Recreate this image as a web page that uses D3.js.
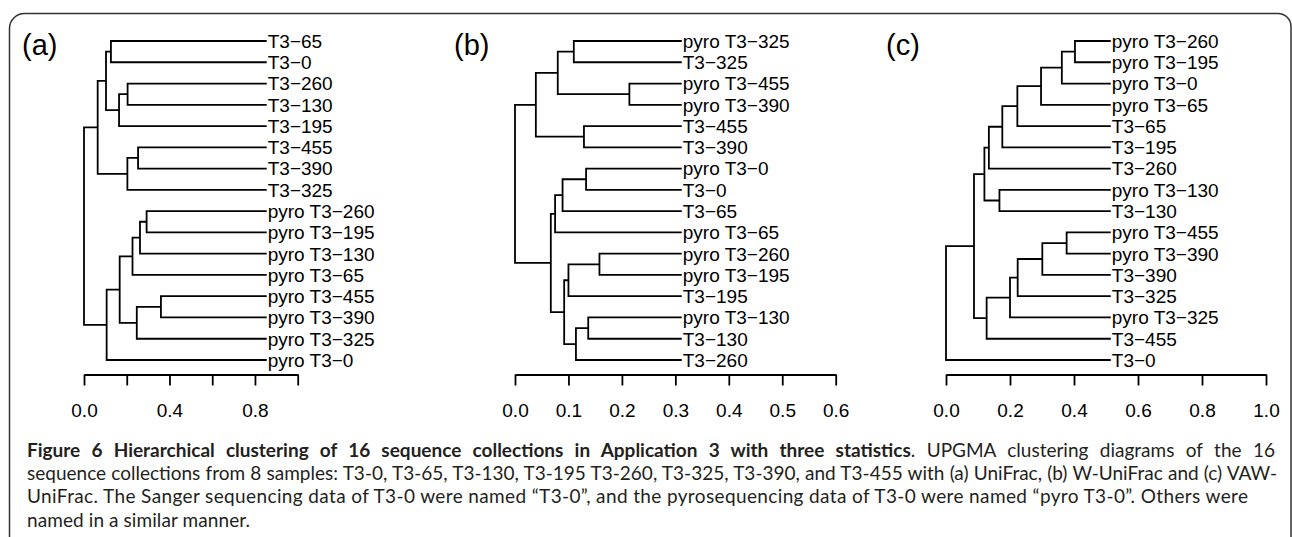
<!DOCTYPE html>
<html>
<head>
<meta charset="utf-8">
<script src="https://cdn.jsdelivr.net/npm/d3@7"></script>
<style>
  body { margin: 0; background: #fff; }
  svg { display: block; }
</style>
</head>
<body>
<script>
// Leaf order (top to bottom) for each dendrogram
var leavesA = ["T3-65", "T3-0", "T3-260", "T3-130", "T3-195", "T3-455", "T3-390", "T3-325",
  "pyro T3-260", "pyro T3-195", "pyro T3-130", "pyro T3-65", "pyro T3-455", "pyro T3-390", "pyro T3-325", "pyro T3-0"];
var leavesB = ["pyro T3-325", "T3-325", "pyro T3-455", "pyro T3-390", "T3-455", "T3-390", "pyro T3-0", "T3-0",
  "T3-65", "pyro T3-65", "pyro T3-260", "pyro T3-195", "T3-195", "pyro T3-130", "T3-130", "T3-260"];
var leavesC = ["pyro T3-260", "pyro T3-195", "pyro T3-0", "pyro T3-65", "T3-65", "T3-195", "T3-260", "pyro T3-130",
  "T3-130", "pyro T3-455", "pyro T3-390", "T3-390", "T3-325", "pyro T3-325", "T3-455", "T3-0"];

// merges: [child1, child2, position on axis]; a number = index of an earlier merge
var mergesA = [
  ["T3-65", "T3-0", 0.126],
  ["T3-260", "T3-130", 0.204],
  [1, "T3-195", 0.164],
  [0, 2, 0.103],
  ["T3-455", "T3-390", 0.253],
  [4, "T3-325", 0.203],
  [3, 5, 0.064],
  ["pyro T3-260", "pyro T3-195", 0.293],
  [7, "pyro T3-130", 0.262],
  [8, "pyro T3-65", 0.227],
  ["pyro T3-455", "pyro T3-390", 0.360],
  [10, "pyro T3-325", 0.247],
  [9, 11, 0.167],
  [12, "pyro T3-0", 0.106],
  [6, 13, 0]
];
var mergesB = [
  ["pyro T3-325", "T3-325", 0.110],
  ["pyro T3-455", "pyro T3-390", 0.214],
  [0, 1, 0.080],
  ["T3-455", "T3-390", 0.129],
  [2, 3, 0.039],
  ["pyro T3-0", "T3-0", 0.133],
  [5, "T3-65", 0.089],
  [6, "pyro T3-65", 0.075],
  ["pyro T3-260", "pyro T3-195", 0.158],
  [8, "T3-195", 0.100],
  ["pyro T3-130", "T3-130", 0.137],
  [10, "T3-260", 0.114],
  [9, 11, 0.092],
  [7, 12, 0.067],
  [4, 13, 0]
];
var mergesC = [
  ["pyro T3-260", "pyro T3-195", 0.403],
  [0, "pyro T3-0", 0.362],
  [1, "pyro T3-65", 0.297],
  [2, "T3-65", 0.223],
  [3, "T3-195", 0.176],
  [4, "T3-260", 0.134],
  ["pyro T3-130", "T3-130", 0.167],
  [5, 6, 0.120],
  ["pyro T3-455", "pyro T3-390", 0.377],
  [8, "T3-390", 0.301],
  [9, "T3-325", 0.224],
  [10, "pyro T3-325", 0.200],
  [11, "T3-455", 0.127],
  [7, 12, 0.0875],
  [13, "T3-0", 0]
];
// axis position where the leaves end
var leafA = 0.855, leafB = 0.312, leafC = 0.515;

var ticksA = [0, 0.2, 0.4, 0.6, 0.8, 1.0];
var tickLabelsA = ["0.0", "", "0.4", "", "0.8", ""];
var ticksB = [0, 0.1, 0.2, 0.3, 0.4, 0.5, 0.6];
var tickLabelsB = ["0.0", "0.1", "0.2", "0.3", "0.4", "0.5", "0.6"];
var ticksC = [0, 0.2, 0.4, 0.6, 0.8, 1.0];
var tickLabelsC = ["0.0", "0.2", "0.4", "0.6", "0.8", "1.0"];

var captionLines = [
  [["Figure 6 Hierarchical clustering of 16 sequence collections in Application 3 with three statistics", true],
   [". UPGMA clustering diagrams of the 16", false]],
  [["sequence collections from 8 samples: T3-0, T3-65, T3-130, T3-195 T3-260, T3-325, T3-390, and T3-455 with (a) UniFrac, (b) W-UniFrac and (c) VAW-", false]],
  [["UniFrac. The Sanger sequencing data of T3-0 were named \u201cT3-0\u201d, and the pyrosequencing data of T3-0 were named \u201cpyro T3-0\u201d. Others were", false]],
  [["named in a similar manner.", false]]
];

var W = 1292, H = 537;
var svg = d3.select("body").append("svg").attr("width", W).attr("height", H);

// rounded frame
svg.append("path")
  .attr("d", "M9.5," + H + "V28A15,15 0 0 1 24.5,13.5H1278A13,13 0 0 1 1291,26.5V" + H)
  .attr("fill", "none").attr("stroke", "#333").attr("stroke-width", 1.5);

var panels = [
  {tag: "(a)", tagX: 22, leaves: leavesA, merges: mergesA, leafPos: leafA, domain: [0, 1], range: [84, 297.7], ticks: ticksA, labels: tickLabelsA},
  {tag: "(b)", tagX: 454, leaves: leavesB, merges: mergesB, leafPos: leafB, domain: [0, 0.6], range: [515, 835.7], ticks: ticksB, labels: tickLabelsB},
  {tag: "(c)", tagX: 886, leaves: leavesC, merges: mergesC, leafPos: leafC, domain: [0, 1], range: [946, 1266], ticks: ticksC, labels: tickLabelsC}
];

var font = "'Liberation Sans', Arial, Helvetica, sans-serif";
var axisY = 374.5;

panels.forEach(function(p) {
  var x = d3.scaleLinear().domain(p.domain).range(p.range);
  var y = d3.scalePoint().domain(p.leaves).range([41, 360]);
  var g = svg.append("g");

  // resolve merge tree into nodes with pos and y
  var nodes = [];
  function ref(c) {
    if (typeof c === "string") return {pos: p.leafPos, y: y(c), label: c};
    return nodes[c];
  }
  p.merges.forEach(function(m) {
    var a = ref(m[0]), b = ref(m[1]);
    nodes.push({pos: m[2], y: (a.y + b.y) / 2, a: a, b: b});
  });

  g.selectAll("path.branch").data(nodes).enter().append("path")
    .attr("class", "branch")
    .attr("d", function(d) {
      return "M" + x(d.a.pos) + "," + d.a.y + "H" + x(d.pos) + "V" + d.b.y + "H" + x(d.b.pos);
    })
    .attr("fill", "none").attr("stroke", "#000").attr("stroke-width", 1.8);

  g.selectAll("text.leaf").data(p.leaves).enter().append("text")
    .attr("class", "leaf")
    .attr("x", x(p.leafPos) + 1)
    .attr("y", function(d) { return y(d); })
    .attr("dy", "0.36em")
    .attr("font-family", font).attr("font-size", 19)
    .text(function(d) { return d.replace("-", "\u2212"); });

  g.append("text")
    .attr("x", p.tagX).attr("y", 55)
    .attr("font-family", font).attr("font-size", 29)
    .text(p.tag);

  var axis = g.append("g")
    .attr("transform", "translate(0," + axisY + ")")
    .call(d3.axisBottom(x).tickValues(p.ticks)
      .tickFormat(function(d, i) { return p.labels[i]; })
      .tickSize(11).tickSizeOuter(0).tickPadding(18));
  axis.select(".domain").attr("stroke-width", 1.8);
  axis.selectAll(".tick line").attr("stroke-width", 1.8);
  axis.selectAll(".tick text").attr("font-family", font).attr("font-size", 19).attr("fill", "#000");
});

// caption: lines 1-2 justified, 3-4 left aligned
var capX = 27;
var capBase = [456.5, 480, 503.3, 526.7];
var capEnd = [1275, 1277, 1248, 250];
var capJustify = [true, true, false, false];
var cap = svg.append("g").attr("font-family", "Lato, 'Open Sans', sans-serif").attr("font-size", 19).attr("fill", "#231f20");
captionLines.forEach(function(line, i) {
  var t = cap.append("text").attr("x", capX).attr("y", capBase[i]);
  line.forEach(function(part) {
    t.append("tspan").attr("font-weight", part[1] ? "bold" : "normal").text(part[0]);
  });
  var target = capEnd[i] - capX;
  var natural = t.node().getComputedTextLength();
  var spaces = line.map(function(p) { return p[0]; }).join("").split(" ").length - 1;
  if (capJustify[i] && natural < target) {
    t.attr("word-spacing", (target - natural) / spaces);
  } else if (Math.abs(natural - target) > 2) {
    t.attr("textLength", target).attr("lengthAdjust", natural > target ? "spacingAndGlyphs" : "spacing");
  }
});
</script>
</body>
</html>
